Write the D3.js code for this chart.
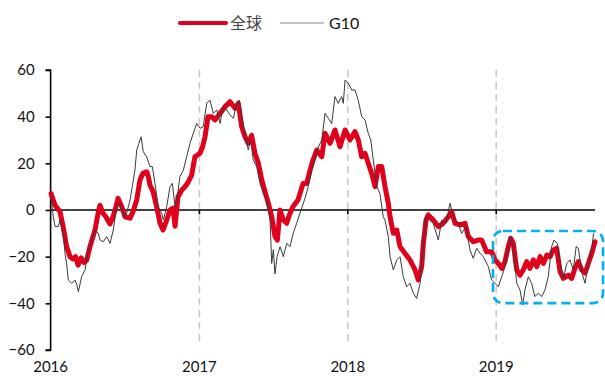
<!DOCTYPE html>
<html><head><meta charset="utf-8">
<script src="https://cdn.jsdelivr.net/npm/d3@7"></script>
<style>
html,body{margin:0;padding:0;background:#fff;}
svg{display:block;}
</style></head>
<body>
<svg id="chart" width="605" height="376"></svg>
<script>
// ---- Data (time as decimal years since 2016-01-01) ----
const seriesNames = ["全球", "G10"];
const yearTicks = [2016, 2017, 2018, 2019];
const yTicks = [-60, -40, -20, 0, 20, 40, 60];

const globalT = [0.003,0.030,0.063,0.084,0.108,0.131,0.151,0.168,0.185,0.205,0.225,0.243,0.265,0.299,0.321,0.333,0.353,0.373,0.400,0.420,0.434,0.454,0.479,0.501,0.535,0.555,0.580,0.602,0.622,0.647,0.659,0.669,0.690,0.714,0.737,0.757,0.782,0.804,0.824,0.838,0.858,0.883,0.906,0.927,0.950,0.972,1.006,1.023,1.040,1.060,1.085,1.107,1.141,1.175,1.208,1.242,1.264,1.287,1.309,1.331,1.354,1.376,1.399,1.422,1.444,1.466,1.489,1.511,1.527,1.545,1.567,1.590,1.612,1.632,1.666,1.700,1.725,1.747,1.767,1.792,1.826,1.848,1.882,1.915,1.949,1.983,2.016,2.050,2.072,2.095,2.117,2.139,2.162,2.185,2.207,2.230,2.252,2.274,2.286,2.308,2.331,2.353,2.387,2.420,2.454,2.476,2.499,2.510,2.528,2.543,2.577,2.611,2.644,2.678,2.701,2.723,2.757,2.791,2.813,2.846,2.880,2.903,2.936,2.970,2.993,3.015,3.038,3.060,3.082,3.098,3.116,3.139,3.161,3.183,3.206,3.228,3.251,3.274,3.296,3.319,3.342,3.364,3.385,3.408,3.431,3.453,3.486,3.509,3.531,3.554,3.576,3.599,3.621,3.644,3.666];
const globalV = [7,2,-0.7,-7,-15.7,-20,-21,-20,-23.6,-20.5,-22.5,-21.5,-15.7,-8.6,-1,2,-1.4,-3,-6,-3,0,5,1.4,-2.9,-3.5,-0.7,4.3,12.9,15.7,16.4,14,10.7,7.9,1.4,-5.7,-8.6,-4.3,0,0.8,-7,5.7,8.6,10,12,15,22.8,24.3,27,31.4,40,40,38.6,41.4,44.3,46.4,43.6,45.7,35.7,31.4,28.6,32,24.3,20,12.9,7.9,2.9,-2.9,-11.4,-12.9,0,-4.3,-5.7,-1.4,1.4,4.3,11.4,11.4,17,21.4,25.7,22.8,32.9,28.6,34.3,27.1,34.3,30,33.6,30,22.8,24.3,20,15.7,10,18.6,18.6,10,2.9,-2.9,-10,-8.6,-15.7,-18.6,-21.4,-25.7,-30,-24.3,-14.3,-4.3,-2.1,-4.3,-7.1,-5.7,-2.9,-0.7,-5.7,-6.4,-5.7,-11.4,-13.6,-12.9,-12.9,-17.9,-17.9,-21.4,-22.9,-25,-22.1,-15.7,-12.1,-14.3,-25.7,-27.9,-25.7,-22.1,-25,-21.4,-24.3,-20,-22.9,-19.3,-20,-17.1,-16.4,-26.4,-29.3,-27.9,-29.3,-25,-22.1,-25.7,-27,-22.9,-18.6,-13.6];

const g10T = [0.003,0.018,0.030,0.052,0.063,0.086,0.097,0.108,0.119,0.142,0.164,0.176,0.187,0.209,0.232,0.254,0.277,0.299,0.321,0.333,0.355,0.378,0.400,0.422,0.445,0.467,0.490,0.512,0.535,0.550,0.568,0.580,0.595,0.609,0.624,0.647,0.669,0.685,0.703,0.725,0.748,0.759,0.782,0.804,0.820,0.838,0.853,0.871,0.894,0.916,0.939,0.961,0.984,1.006,1.028,1.051,1.073,1.096,1.119,1.141,1.163,1.186,1.208,1.231,1.253,1.271,1.287,1.309,1.331,1.347,1.365,1.388,1.410,1.432,1.455,1.478,1.489,1.500,1.511,1.525,1.545,1.567,1.590,1.612,1.634,1.657,1.679,1.713,1.735,1.758,1.780,1.803,1.826,1.848,1.870,1.893,1.915,1.937,1.960,1.971,1.983,2.005,2.028,2.050,2.072,2.095,2.117,2.139,2.156,2.173,2.196,2.218,2.240,2.252,2.274,2.286,2.308,2.331,2.353,2.375,2.398,2.420,2.443,2.465,2.488,2.510,2.528,2.550,2.577,2.611,2.634,2.663,2.690,2.712,2.745,2.768,2.797,2.824,2.846,2.869,2.892,2.914,2.948,2.970,2.993,3.015,3.038,3.060,3.082,3.098,3.116,3.139,3.161,3.179,3.194,3.217,3.239,3.261,3.284,3.307,3.329,3.351,3.374,3.390,3.412,3.431,3.453,3.476,3.498,3.520,3.539,3.554,3.576,3.599,3.621,3.644,3.656];
const g10V = [5.7,-2.9,-7.1,-7.1,-4.3,-10,-18.6,-22.9,-30,-31.4,-30,-32,-35,-28.6,-25.7,-17.1,-12.9,-8.6,-10,-12.9,-13.6,-11.4,-14.3,-8.6,1.4,2.9,-2.9,-1.4,4.3,10,17.1,25.7,28.6,31.4,25,22.8,18.6,18.6,11.4,1.4,-1.4,-4.3,1.4,10,11.4,1.4,5.7,14.3,17.1,22.8,28.6,32.9,37.1,35,35.7,45.7,47.1,41.4,42.9,37.1,44.3,42.9,40.7,39.3,45.7,47.1,40,32.9,25.7,30,21.4,18.6,11.4,7.1,4.3,-4.3,-22.9,-17,-27.4,-20,-15.7,-20,-14.3,-15.7,-10,-5.7,-1.4,5,10,17,21.4,27,30,41.4,39.3,37,48.6,45.7,48.6,45.7,55.7,54.3,51.4,51.4,47,40,38.6,32.9,30,21.4,10,7,-2.9,-4.3,-11.4,-20,-25.7,-21.4,-20,-28.6,-32.9,-31.4,-35.7,-37.9,-31.4,-14.3,-2.9,-4.3,-5.7,-12.9,-4.3,-5.7,2.9,-2.9,-5.7,-10,-7.1,-17.1,-20.7,-16.4,-18.6,-20,-24.3,-30,-31.4,-32.9,-28.6,-24.3,-16.4,-11.4,-16.4,-31.4,-34.3,-40.7,-34.3,-28.6,-31.4,-37.1,-35.7,-37.1,-34.3,-28.6,-15.7,-12.9,-14.3,-22.9,-29.3,-22.9,-21.4,-25.7,-15.7,-16.4,-26.4,-31.4,-22.9,-17.1,-10];

// highlight box (decimal years / values)
const boxT = [2.979, 3.720];
const boxV = [-9, -39.9];

// ---- Chart ----
const svg = d3.select("#chart");
const t0 = new Date(2016, 0, 1).getTime();
const toDate = t => new Date(t0 + t * 365.25 * 864e5);

const x = d3.scaleTime()
  .domain([new Date(2016,0,1), new Date(2020,0,1)])
  .range([50.6, 50.6 + 4 * 148.5]);
const y = d3.scaleLinear().domain([-60, 60]).range([350, 70]);
const xEnd = 595;
const font = "Lato, 'Noto Sans', sans-serif";

// dashed year gridlines
svg.append("g").selectAll("line")
  .data(yearTicks.slice(1))
  .join("line")
  .attr("x1", d => x(new Date(d,0,1))).attr("x2", d => x(new Date(d,0,1)))
  .attr("y1", y(60)).attr("y2", 345)
  .attr("stroke", "#c9c9c9").attr("stroke-width", 1.6)
  .attr("stroke-dasharray", "7,5");

// y axis
const yAxis = d3.axisLeft(y).tickValues(yTicks).tickSize(5).tickPadding(11)
  .tickFormat(d3.format("d"));
const gy = svg.append("g").attr("transform", "translate(50.6,0)").call(yAxis);
gy.select(".domain").attr("stroke", "#000").attr("stroke-width", 1.6)
  .attr("d", `M-5,${y(60)}H0V${y(-60)}H-5`);
gy.selectAll(".tick line").attr("stroke", "#000").attr("stroke-width", 1.6);
gy.selectAll(".tick text").attr("font-family", font).attr("font-size", 15)
  .attr("fill", "#111");

// zero line + year ticks
svg.append("line").attr("x1", 50.6).attr("x2", xEnd)
  .attr("y1", y(0)).attr("y2", y(0)).attr("stroke", "#000").attr("stroke-width", 1.6);
svg.append("g").selectAll("line").data(yearTicks.slice(1)).join("line")
  .attr("x1", d => x(new Date(d,0,1))).attr("x2", d => x(new Date(d,0,1)))
  .attr("y1", y(0)).attr("y2", y(0) + 4)
  .attr("stroke", "#000").attr("stroke-width", 1.6);

// year labels
svg.append("g").selectAll("text").data(yearTicks).join("text")
  .attr("x", d => x(new Date(d,0,1)))
  .attr("y", 372)
  .attr("text-anchor", "middle")
  .attr("font-family", font).attr("font-size", 15).attr("fill", "#111")
  .text(d => d);

// lines
const line = d3.line().x(d => x(d.date)).y(d => y(d.v)).curve(d3.curveLinear);
const globalData = globalT.map((t, i) => ({date: toDate(t), v: globalV[i]}));
const g10Data = g10T.map((t, i) => ({date: toDate(t), v: g10V[i]}));

svg.append("path").datum(globalData).attr("d", line)
  .attr("fill", "none").attr("stroke", "#E0001B").attr("stroke-width", 5)
  .attr("stroke-linejoin", "round").attr("stroke-linecap", "round");
svg.append("path").datum(g10Data).attr("d", line)
  .attr("fill", "none").attr("stroke", "#3a3a3a").attr("stroke-width", 1)
  .attr("stroke-linejoin", "round");

// highlight box
const bx0 = x(toDate(boxT[0])), bx1 = x(toDate(boxT[1]));
const by0 = y(boxV[0]), by1 = y(boxV[1]);
svg.append("rect")
  .attr("x", bx0).attr("y", by0)
  .attr("width", bx1 - bx0).attr("height", by1 - by0)
  .attr("rx", 10).attr("ry", 10)
  .attr("fill", "none").attr("stroke", "#00B0F0").attr("stroke-width", 2.6)
  .attr("stroke-dasharray", "9,5");

// legend
const legend = svg.append("g");
legend.append("line").attr("x1", 180).attr("x2", 226).attr("y1", 23).attr("y2", 23)
  .attr("stroke", "#E0001B").attr("stroke-width", 4).attr("stroke-linecap", "round");
legend.append("text").attr("x", 230).attr("y", 29)
  .attr("font-family", "'Noto Sans CJK SC', sans-serif").attr("font-size", 16)
  .attr("fill", "#444").text(seriesNames[0]);
legend.append("line").attr("x1", 280).attr("x2", 324).attr("y1", 23).attr("y2", 23)
  .attr("stroke", "#888").attr("stroke-width", 1.2);
legend.append("text").attr("x", 329).attr("y", 29)
  .attr("font-family", font).attr("font-size", 16)
  .attr("fill", "#111").text(seriesNames[1]);
</script>
</body></html>
